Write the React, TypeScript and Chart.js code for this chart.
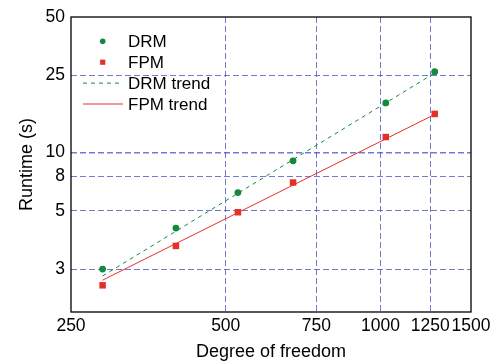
import React, { useEffect, useRef } from "react";
import { Chart, registerables } from "chart.js";

Chart.register(...registerables);

const DOF = [288, 400, 528, 676, 1024, 1275];
const DRM = [2.5, 4.07, 6.2, 9.05, 18.0, 26.1];
const FPM = [2.06, 3.29, 4.91, 6.99, 12.0, 15.8];
const TREND_X = [288, 1275];
const DRM_TREND = [2.3, 25.7];
const FPM_TREND = [2.19, 15.7];
const X_TICKS = [250, 500, 750, 1000, 1250, 1500];
const Y_TICKS = [2.5, 5, 7.5, 10, 25, 50];
const LEGEND_LABELS = ["DRM", "FPM", "DRM trend", "FPM trend"];

const GREEN = "#14893a";
const RED = "#e5302a";
const GRID = "rgba(60,70,190,0.72)";
const FONT = "Arial, 'Liberation Sans', sans-serif";

const frameAndLegend = {
  id: "frameAndLegend",
  afterDatasetsDraw(chart: any) {
    const { ctx, chartArea: a } = chart;
    ctx.save();
    ctx.strokeStyle = "#000";
    ctx.lineWidth = 1.3;
    ctx.setLineDash([]);
    ctx.strokeRect(a.left, a.top, a.right - a.left, a.bottom - a.top);

    const symX = a.left + 31.7;
    const textX = a.left + 57;
    const rowY = (i: number) => a.top + 24.3 + i * 20.9;
    ctx.font = "17px " + FONT;
    ctx.textBaseline = "middle";
    ctx.textAlign = "left";
    LEGEND_LABELS.forEach((t, i) => {
      ctx.fillStyle = "#000";
      ctx.fillText(t, textX, rowY(i) + 1);
    });
    ctx.fillStyle = GREEN;
    ctx.beginPath();
    ctx.arc(symX, rowY(0), 2.8, 0, Math.PI * 2);
    ctx.fill();
    ctx.fillStyle = RED;
    ctx.fillRect(symX - 2.6, rowY(1) - 2.6, 5.2, 5.2);
    ctx.strokeStyle = GREEN;
    ctx.lineWidth = 1;
    ctx.setLineDash([4, 4]);
    ctx.beginPath();
    ctx.moveTo(a.left + 12, rowY(2));
    ctx.lineTo(a.left + 52, rowY(2));
    ctx.stroke();
    ctx.strokeStyle = RED;
    ctx.setLineDash([]);
    ctx.beginPath();
    ctx.moveTo(a.left + 12, rowY(3));
    ctx.lineTo(a.left + 52, rowY(3));
    ctx.stroke();
    ctx.restore();
  },
};

export default function App() {
  const ref = useRef<HTMLCanvasElement | null>(null);
  useEffect(() => {
    if (!ref.current) return;
    const pts = (xs: number[], ys: number[]) => xs.map((x, i) => ({ x, y: ys[i] }));
    const chart = new Chart(ref.current, {
      type: "scatter",
      data: {
        datasets: [
          {
            label: "DRM trend",
            data: pts(TREND_X, DRM_TREND),
            showLine: true,
            borderColor: GREEN,
            borderWidth: 1,
            borderDash: [4, 4],
            pointRadius: 0,
            fill: false,
          },
          {
            label: "FPM trend",
            data: pts(TREND_X, FPM_TREND),
            showLine: true,
            borderColor: RED,
            borderWidth: 1,
            pointRadius: 0,
            fill: false,
          },
          {
            label: "DRM",
            data: pts(DOF, DRM),
            pointStyle: "circle",
            pointRadius: 3.4,
            backgroundColor: GREEN,
            borderColor: GREEN,
            borderWidth: 0,
          },
          {
            label: "FPM",
            data: pts(DOF, FPM),
            pointStyle: "rect",
            pointRadius: 4.6,
            backgroundColor: RED,
            borderColor: RED,
            borderWidth: 0,
          },
        ],
      },
      options: {
        animation: false,
        responsive: true,
        maintainAspectRatio: false,
        layout: { padding: { top: 17, right: 26, left: 0, bottom: 0 } },
        plugins: { legend: { display: false }, tooltip: { enabled: false } },
        scales: {
          x: {
            type: "logarithmic",
            min: 250,
            max: 1500,
            afterBuildTicks: (s: any) => {
              s.ticks = X_TICKS.map((v) => ({ value: v }));
            },
            afterFit: (s: any) => {
              s.height = 52;
            },
            ticks: {
              autoSkip: false,
              maxRotation: 0,
              minRotation: 0,
              padding: 4,
              color: "#000",
              font: { family: FONT, size: 17.5 },
              callback: (v: any) => String(v),
            },
            grid: {
              drawTicks: false,
              lineWidth: 1,
              color: (c: any) =>
                c.tick && (c.tick.value === 250 || c.tick.value === 1500) ? "transparent" : GRID,
            },
            border: { display: false, dash: [6, 3] },
            title: {
              display: true,
              text: "Degree of freedom",
              color: "#000",
              font: { family: FONT, size: 18 },
              padding: { top: 0, bottom: 1 },
            },
          },
          y: {
            type: "logarithmic",
            min: 1.5,
            max: 50,
            afterBuildTicks: (s: any) => {
              s.ticks = Y_TICKS.map((v) => ({ value: v }));
            },
            afterFit: (s: any) => {
              s.width = 71;
            },
            ticks: {
              autoSkip: false,
              padding: 6,
              color: "#000",
              font: { family: FONT, size: 17.5 },
              callback: (v: any) => String(Math.round(Number(v))),
            },
            grid: {
              drawTicks: false,
              lineWidth: (c: any) => (c.tick && c.tick.value === 10 ? 1.6 : 1),
              color: (c: any) =>
                c.tick && c.tick.value === 50 ? "transparent" : GRID,
            },
            border: { display: false, dash: [6, 3] },
            title: {
              display: true,
              text: "Runtime (s)",
              color: "#000",
              font: { family: FONT, size: 18 },
              padding: { top: 16, bottom: 0 },
            },
          },
        },
      },
      plugins: [frameAndLegend],
    } as any);
    return () => chart.destroy();
  }, []);
  return (
    <div style={{ position: "absolute", left: 0, top: 0, width: 497, height: 364 }}>
      <canvas ref={ref} />
    </div>
  );
}
